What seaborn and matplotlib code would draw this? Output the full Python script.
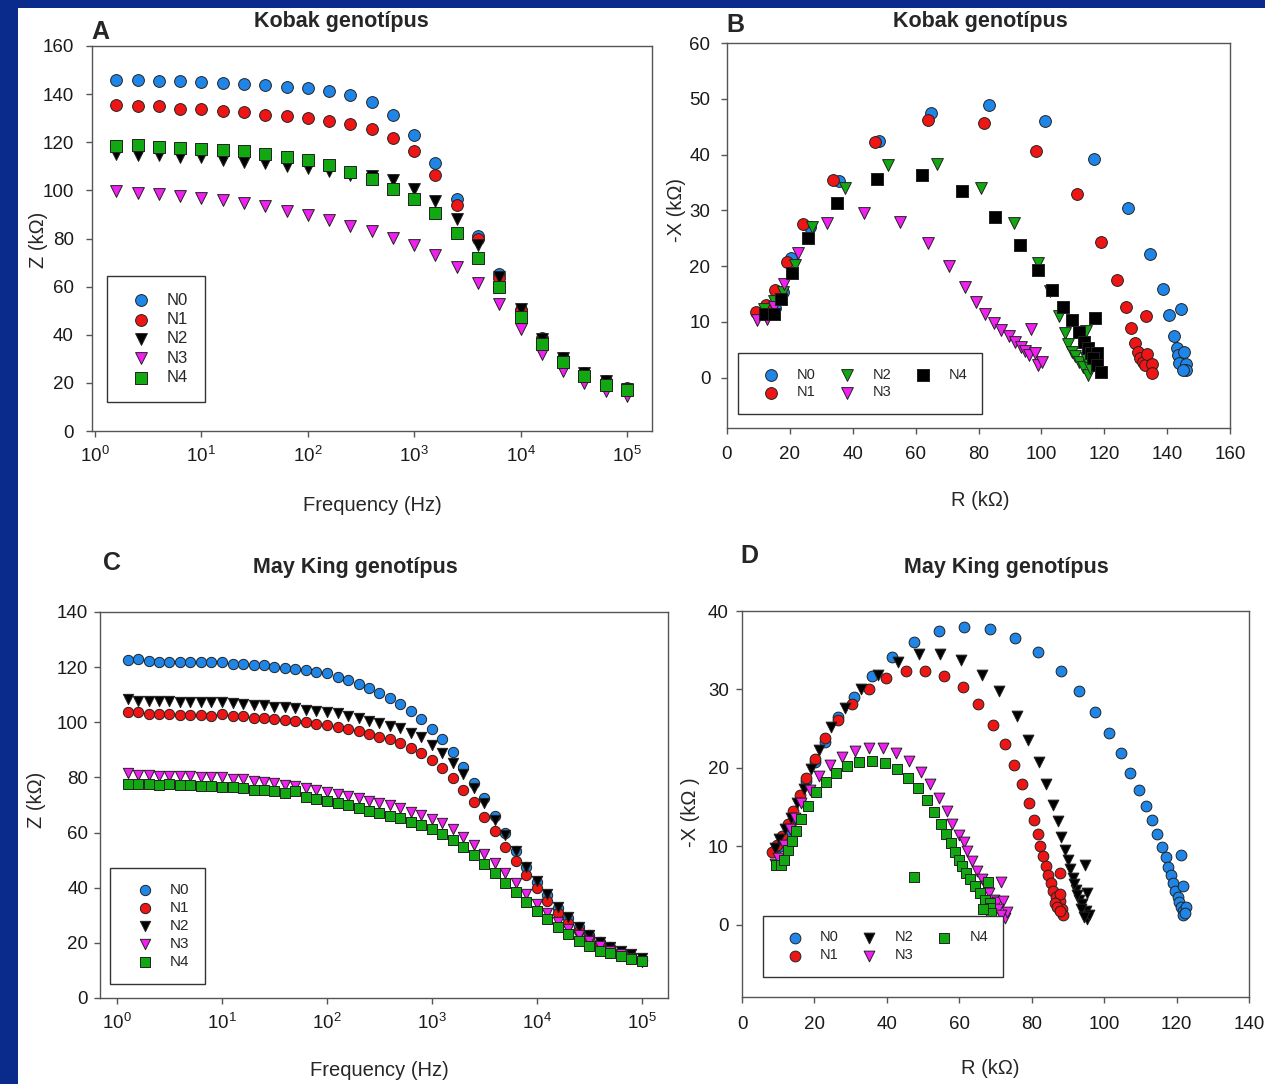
import numpy as np
import seaborn as sns
import matplotlib.pyplot as plt
from matplotlib.patches import Rectangle

sns.set_style("ticks")
plt.rcParams['font.family'] = ['Liberation Sans', 'DejaVu Sans']
plt.rcParams['mathtext.fontset'] = 'custom'
plt.rcParams['mathtext.rm'] = 'Liberation Sans'
plt.rcParams['mathtext.it'] = 'Liberation Sans:italic'
plt.rcParams['mathtext.bf'] = 'Liberation Sans:bold'

W, H = 1265, 1084
NAVY = '#0a2a8c'
names = ['N0', 'N1', 'N2', 'N3', 'N4']

# ---- A: Kobak, |Z| vs frequency ----
freq_a = [1.58, 2.51, 3.98, 6.31, 10, 15.8, 25.1, 39.8, 63.1, 100, 158, 251, 398, 631,
          1000, 1585, 2512, 3981, 6310, 10000, 15849, 25119, 39811, 63096, 100000]
z_a_n0 = [145.9, 145.9, 145.5, 145.5, 145.1, 144.8, 144.1, 143.7, 143.1, 142.4, 141.3, 139.5, 136.6,
          131.4, 123.1, 111.4, 96.6, 81.0, 65.1, 50.2, 38.6, 30.3, 24.3, 20.6, 17.8]
z_a_n1 = [135.3, 135.1, 134.9, 134.0, 133.7, 133.1, 132.5, 131.5, 130.8, 130.2, 129.0, 127.4, 125.5,
          121.9, 116.2, 106.5, 94.1, 79.6, 63.7, 50.2, 38.3, 29.8, 23.4, 19.9, 17.0]
z_a_n2 = [115.2, 114.8, 114.8, 114.0, 114.0, 112.7, 112.0, 111.2, 110.3, 109.4, 108.0, 106.5, 105.8,
          104.2, 100.7, 95.5, 87.9, 77.5, 64.1, 50.6, 38.4, 30.5, 24.3, 20.6, 17.4]
z_a_n3 = [99.8, 98.9, 98.7, 97.7, 96.9, 96.2, 94.9, 93.4, 91.6, 89.8, 87.6, 85.4, 83.0,
          80.3, 77.2, 73.2, 68.3, 61.6, 52.6, 42.3, 31.9, 25.0, 19.9, 16.6, 14.6]
z_a_n4 = [118.3, 119.0, 118.0, 117.7, 117.4, 116.9, 116.2, 115.1, 113.9, 112.5, 110.4, 107.6, 104.7,
          100.7, 96.4, 90.4, 82.1, 72.0, 59.8, 47.5, 36.1, 28.5, 22.9, 19.2, 17.0]

# ---- B: Kobak, Nyquist ----
r_b_n0 = [13.0, 15.3, 17.8, 20.5, 26.5, 35.5, 48.3, 65.0, 83.2, 101.2, 116.8, 127.7, 134.6, 138.7,
          140.5, 142.3, 143.0, 143.6, 143.8, 144.4, 145.4, 146.0, 146.0, 144.9]
x_b_n0 = [12.3, 12.5, 15.4, 21.5, 27.1, 35.2, 42.5, 47.5, 48.9, 46.0, 39.2, 30.4, 22.2, 16.0,
          11.2, 7.5, 5.4, 4.1, 2.6, 12.4, 4.7, 2.4, 1.4, 1.4]
r_b_n1 = [9.3, 12.4, 15.3, 19.1, 24.1, 33.6, 47.1, 64.0, 81.8, 98.2, 111.3, 119.0, 123.9, 126.9,
          133.2, 128.5, 129.9, 130.7, 131.5, 132.3, 133.0, 133.7, 135.1, 135.1]
x_b_n1 = [11.7, 13.0, 15.8, 20.7, 27.6, 35.5, 42.3, 46.2, 45.6, 40.7, 32.9, 24.3, 17.6, 12.6,
          11.1, 8.9, 6.3, 4.7, 3.5, 2.9, 2.3, 4.2, 2.4, 0.8]
r_b_n2 = [11.8, 14.8, 17.8, 21.5, 27.0, 37.4, 51.3, 66.8, 80.8, 91.3, 98.9, 102.8, 105.6, 107.5,
          108.6, 109.7, 110.7, 112.0, 113.2, 114.9, 114.2, 114.2, 115.5]
x_b_n2 = [12.3, 13.8, 15.4, 20.3, 27.1, 34.0, 38.2, 38.3, 34.1, 27.7, 20.5, 15.5, 11.1, 8.1,
          6.0, 4.7, 3.9, 2.9, 2.0, 0.5, 8.3, 3.5, 1.7]
r_b_n3 = [9.6, 12.6, 14.8, 18.0, 22.6, 31.7, 43.5, 54.9, 64.0, 70.5, 75.6, 79.2, 82.2, 85.0,
          87.3, 89.7, 91.6, 93.5, 94.9, 96.2, 97.9, 96.8, 99.0, 100.3]
x_b_n3 = [10.4, 10.5, 12.7, 16.8, 22.4, 27.7, 29.6, 28.0, 24.2, 20.0, 16.3, 13.5, 11.5, 9.9,
          8.6, 7.5, 6.5, 5.6, 4.8, 4.1, 4.5, 8.7, 2.3, 2.9]
r_b_n4 = [12.0, 14.8, 17.3, 20.8, 25.7, 35.0, 47.6, 61.9, 74.9, 85.1, 93.3, 99.0, 103.5, 106.8,
          109.7, 112.0, 117.0, 113.5, 114.8, 115.9, 117.6, 116.5, 117.8, 119.0]
x_b_n4 = [11.5, 11.4, 14.2, 18.7, 25.0, 31.4, 35.6, 36.3, 33.4, 28.8, 23.8, 19.3, 15.7, 12.7,
          10.3, 8.2, 10.8, 6.4, 5.3, 4.5, 4.4, 3.5, 2.3, 1.0]

# ---- C: May King, |Z| vs frequency ----
freq_c = [1.26, 1.58, 2.0, 2.51, 3.16, 3.98, 5.01, 6.31, 7.94, 10,
          12.6, 15.8, 20.0, 25.1, 31.6, 39.8, 50.1, 63.1, 79.4, 100,
          126, 158, 200, 251, 316, 398, 501, 631, 794, 1000,
          1259, 1585, 1995, 2512, 3162, 3981, 5012, 6310, 7943, 10000,
          12589, 15849, 19953, 25119, 31623, 39811, 50119, 63096, 79433, 100000]
z_c_n0 = [122.7, 122.9, 122.4, 121.9, 121.9, 121.9, 121.9, 121.8, 121.9, 121.8,
          121.3, 121.2, 120.8, 120.6, 120.1, 119.8, 119.2, 118.9, 118.3, 117.7,
          116.6, 115.3, 114.0, 112.3, 110.7, 108.7, 106.6, 104.1, 101.1, 97.6,
          93.8, 89.1, 83.9, 78.1, 72.4, 66.1, 59.7, 53.4, 47.6, 42.2,
          37.4, 32.8, 28.9, 25.6, 22.9, 20.4, 18.4, 16.7, 15.2, 13.8]
z_c_n1 = [103.6, 103.9, 103.0, 103.0, 102.9, 102.8, 102.8, 102.8, 102.1, 103.0,
          102.4, 102.1, 101.7, 101.5, 101.2, 100.9, 100.5, 100.2, 99.5, 98.9,
          98.3, 97.6, 96.9, 95.8, 94.8, 93.9, 92.4, 90.8, 88.7, 86.3,
          83.4, 79.8, 75.6, 71.0, 65.8, 60.6, 54.9, 49.7, 44.6, 39.8,
          35.2, 31.0, 27.3, 24.4, 21.6, 19.6, 17.8, 16.2, 15.0, 13.8]
z_c_n2 = [108.5, 107.9, 107.8, 107.6, 107.6, 107.5, 107.5, 107.3, 107.3, 107.2,
          106.9, 106.6, 106.4, 106.1, 105.7, 105.5, 105.1, 104.6, 104.1, 103.9,
          103.3, 102.3, 101.5, 100.6, 99.9, 98.8, 97.8, 96.2, 94.6, 91.9,
          89.0, 85.4, 81.1, 76.1, 70.6, 64.6, 59.1, 53.4, 47.6, 42.6,
          37.7, 33.1, 29.3, 25.9, 23.0, 20.4, 18.6, 17.0, 15.8, 14.5]
z_c_n3 = [81.5, 81.0, 81.0, 80.6, 80.6, 80.6, 80.4, 80.2, 80.2, 80.0,
          79.5, 79.3, 78.8, 78.3, 77.8, 77.3, 77.0, 76.1, 75.5, 74.6,
          74.1, 73.3, 72.6, 71.6, 70.6, 69.9, 68.8, 67.6, 66.4, 64.9,
          63.4, 61.2, 58.5, 55.6, 52.2, 49.1, 45.2, 41.6, 37.7, 34.1,
          30.7, 27.7, 25.1, 22.7, 20.7, 18.9, 17.2, 15.8, 14.5, 13.0]
z_c_n4 = [77.6, 77.6, 77.6, 77.2, 77.6, 77.2, 77.2, 77.0, 77.0, 76.7,
          76.5, 76.2, 75.6, 75.3, 74.9, 74.3, 75.0, 73.0, 72.2, 71.4,
          70.9, 70.0, 69.0, 67.9, 67.0, 66.1, 65.2, 64.0, 62.6, 61.2,
          59.5, 57.3, 54.9, 51.9, 48.6, 45.2, 41.8, 38.3, 34.9, 31.7,
          28.5, 25.6, 23.2, 20.8, 18.9, 17.2, 16.2, 15.2, 14.2, 13.3]

# ---- D: May King, Nyquist ----
r_d_n0 = [9.0, 10.4, 12.2, 14.1, 15.9, 17.8, 20.2, 23.0, 26.5, 30.8, 35.9, 41.4, 47.6, 54.4, 61.4,
          68.5, 75.5, 81.8, 88.0, 93.0, 97.4, 101.3, 104.6, 107.2, 109.5, 111.5, 113.1, 114.7,
          115.9, 117.0, 117.7, 118.4, 119.1, 119.6, 120.3, 120.7, 121.2, 121.7, 121.9, 122.5,
          121.7, 121.1, 122.3]
x_d_n0 = [9.4, 10.0, 11.3, 13.4, 16.0, 18.3, 20.8, 23.3, 26.5, 29.1, 31.7, 34.1, 36.0, 37.4, 38.0,
          37.7, 36.5, 34.8, 32.4, 29.8, 27.1, 24.4, 21.9, 19.4, 17.2, 15.2, 13.3, 11.6,
          9.9, 8.7, 7.4, 6.3, 5.3, 4.3, 3.6, 2.9, 2.3, 1.8, 1.2, 2.3,
          4.9, 8.9, 1.5]
r_d_n1 = [8.4, 9.8, 11.1, 12.7, 14.1, 15.9, 17.8, 20.1, 23.0, 26.5, 30.5, 35.0, 39.9, 45.2,
          50.6, 55.8, 60.9, 65.2, 69.4, 72.5, 75.0, 77.3, 79.2, 80.6, 81.7, 82.4, 83.1, 84.0,
          84.5, 85.2, 85.9, 86.7, 87.7, 87.9, 87.8, 88.5, 88.7, 86.5, 87.0, 87.9]
x_d_n1 = [9.3, 10.2, 11.3, 12.8, 14.5, 16.6, 18.7, 21.1, 23.8, 26.1, 28.1, 30.0, 31.4, 32.4,
          32.4, 31.7, 30.3, 28.2, 25.5, 23.1, 20.4, 17.9, 15.5, 13.4, 11.6, 10.0, 8.8, 7.5,
          6.3, 5.3, 4.3, 3.5, 3.0, 3.9, 6.6, 2.0, 1.3, 2.8, 2.3, 1.8]
r_d_n2 = [9.0, 10.3, 11.8, 13.4, 15.2, 17.0, 19.0, 21.3, 24.5, 28.4, 32.8, 37.6, 43.1, 49.0,
          54.7, 60.5, 66.4, 70.9, 75.8, 79.0, 81.9, 84.0, 86.0, 87.2, 88.2, 89.2, 90.0, 90.5,
          91.4, 92.1, 93.0, 94.0, 94.9, 95.4, 94.6, 95.2, 93.7, 95.8, 91.8, 92.6, 94.3]
x_d_n2 = [9.8, 10.9, 12.2, 13.6, 15.5, 17.3, 19.8, 22.3, 25.2, 27.6, 30.0, 31.8, 33.5, 34.5,
          34.5, 33.7, 31.9, 29.8, 26.6, 23.6, 20.7, 18.0, 15.3, 13.2, 11.2, 9.6, 8.3, 7.1,
          6.0, 4.4, 3.2, 2.6, 1.8, 0.7, 7.6, 4.1, 2.0, 1.3, 5.2, 3.8, 1.0]
r_d_n3 = [9.0, 10.0, 11.5, 13.2, 14.5, 16.4, 18.7, 21.3, 24.2, 27.6, 31.3, 35.1, 38.8, 42.4,
          46.0, 49.3, 51.9, 54.5, 56.6, 58.1, 59.8, 61.2, 62.1, 63.5, 64.9, 66.3, 67.3, 68.1,
          69.5, 70.4, 71.5, 72.0, 70.8, 72.7, 73.2, 71.6]
x_d_n3 = [7.7, 8.5, 10.2, 12.2, 13.6, 15.5, 17.2, 19.0, 20.4, 21.4, 22.2, 22.6, 22.5, 21.9,
          20.9, 19.5, 17.9, 16.2, 14.5, 12.9, 11.5, 10.5, 9.4, 8.1, 6.8, 5.9, 4.9, 4.1,
          3.2, 2.9, 5.4, 3.0, 2.0, 0.9, 1.6, 1.2]
r_d_n4 = [9.5, 10.9, 11.6, 12.7, 13.8, 15.0, 16.4, 18.1, 20.5, 23.1, 26.0, 29.0, 32.4, 36.0,
          39.4, 42.7, 45.9, 48.7, 51.2, 53.1, 54.9, 56.4, 57.7, 58.9, 59.8, 60.8, 61.9, 63.0,
          64.4, 65.8, 67.2, 67.8, 68.4, 68.6, 47.5, 68.8, 66.5]
x_d_n4 = [7.6, 7.6, 8.3, 9.5, 10.7, 12.0, 13.5, 15.2, 16.9, 18.2, 19.4, 20.3, 20.8, 20.9,
          20.6, 19.9, 18.7, 17.4, 15.9, 14.4, 12.9, 11.6, 10.4, 9.3, 8.3, 7.5, 6.6, 5.8,
          4.9, 4.0, 3.2, 5.4, 2.8, 2.2, 6.1, 1.5, 2.0]

BLUE, RED, BLACK, MAG, GREEN = '#1f86e8', '#ee1515', '#000000', '#f020f0', '#12a812'
col_std = [BLUE, RED, BLACK, MAG, GREEN]
mk_std = ['o', 'o', 'v', 'v', 's']
col_b = [BLUE, RED, GREEN, MAG, BLACK]
mk_b = ['o', 'o', 'v', 'v', 's']

fig = plt.figure(figsize=(W / 100, H / 100), dpi=100, facecolor=NAVY)
fig.add_artist(Rectangle((18 / W, 0), 1, 1 - 8 / H, transform=fig.transFigure,
                         facecolor='white', edgecolor='none', zorder=-5))


def px_axes(l, t, r, b):
    return fig.add_axes([l / W, 1 - b / H, (r - l) / W, (b - t) / H])


def ftext(x, y, s, **kw):
    fig.text(x / W, 1 - y / H, s, ha='center', va='center', **kw)


def style(ax, ypad, xpad):
    for s in ax.spines.values():
        s.set_color('#555555')
        s.set_linewidth(1.0)
    ax.tick_params(direction='out', length=4, width=1, color='#555555',
                   labelsize=13.5, labelcolor='#1a1a1a')
    ax.tick_params(axis='y', pad=ypad)
    ax.tick_params(axis='x', pad=xpad)


def draw(ax, xs, ys, colors, markers, size):
    for x, y, n, c, m in zip(xs, ys, names, colors, markers):
        sns.scatterplot(x=x, y=y, ax=ax, color=c, marker=m, s=size, edgecolor='#222222',
                        linewidth=0.7, label=n, zorder=3)


def legend(ax, anchor, loc, fs, ncol, hl, htp, ls, cs=1.0):
    leg = ax.legend(loc=loc, bbox_to_anchor=anchor, ncol=ncol, fontsize=fs, frameon=True,
                    fancybox=False, framealpha=1, edgecolor='#333333', borderpad=1.0,
                    borderaxespad=0, handlelength=hl, handletextpad=htp, labelspacing=ls,
                    columnspacing=cs, scatterpoints=1)
    leg.get_frame().set_linewidth(1.0)
    leg.set_zorder(10)


# A
axA = px_axes(92, 46, 652, 431)
draw(axA, [freq_a] * 5, [z_a_n0, z_a_n1, z_a_n2, z_a_n3, z_a_n4], col_std, mk_std, 72)
axA.set_xscale('log')
axA.set_xlim(10 ** -0.028, 10 ** 5.235)
axA.set_ylim(0, 160)
axA.set_xticks([1, 10, 100, 1000, 1e4, 1e5])
axA.set_yticks(range(0, 161, 20))
axA.minorticks_off()
style(axA, 9, 7)
legend(axA, ((107 - 92) / 560, (431 - 276) / 385), 'upper left', 12, 1, 2.07, 0.52, 0.26)

# B
axB = px_axes(727, 43, 1230, 428)
draw(axB, [r_b_n0, r_b_n1, r_b_n2, r_b_n3, r_b_n4], [x_b_n0, x_b_n1, x_b_n2, x_b_n3, x_b_n4],
     col_b, mk_b, 72)
axB.set_xlim(0, 160)
axB.set_ylim(-9, 60)
axB.set_xticks(range(0, 161, 20))
axB.set_yticks(range(0, 61, 10))
style(axB, 8, 9)
legend(axB, ((738 - 727) / 503, (428 - 414) / 385), 'lower left', 10.5, 3, 2.52, 0.52, 0.26, 0.88)

# C
axC = px_axes(100, 612, 668, 998)
draw(axC, [freq_c] * 5, [z_c_n0, z_c_n1, z_c_n2, z_c_n3, z_c_n4], col_std, mk_std, 55)
axC.set_xscale('log')
axC.set_xlim(10 ** -0.162, 10 ** 5.248)
axC.set_ylim(0, 140)
axC.set_xticks([1, 10, 100, 1000, 1e4, 1e5])
axC.set_yticks(range(0, 141, 20))
axC.minorticks_off()
style(axC, 4.5, 7)
legend(axC, ((110 - 100) / 568, (998 - 868) / 386), 'upper left', 11, 1, 2.57, 0.35, 0.25)

# D
axD = px_axes(742, 611, 1249, 997)
draw(axD, [r_d_n0, r_d_n1, r_d_n2, r_d_n3, r_d_n4], [x_d_n0, x_d_n1, x_d_n2, x_d_n3, x_d_n4],
     col_std, mk_std, 60)
axD.set_xlim(0, 140)
axD.set_ylim(-9.2, 40)
axD.set_xticks(range(0, 141, 20))
axD.set_yticks(range(0, 41, 10))
style(axD, 5.5, 10)
legend(axD, ((763 - 742) / 507, (997 - 977) / 386), 'lower left', 10.5, 3, 2.32, 0.59, 0.28, 0.92)

# titles, panel letters, axis labels
ftext(341, 21, 'Kobak genotípus', fontsize=15.5, fontweight='bold')
ftext(980, 21, 'Kobak genotípus', fontsize=15.5, fontweight='bold')
ftext(355, 568, 'May King genotípus', fontsize=15.5, fontweight='bold')
ftext(1006, 568, 'May King genotípus', fontsize=15.5, fontweight='bold')
ftext(100, 32, 'A', fontsize=18, fontweight='bold')
ftext(735, 25, 'B', fontsize=18, fontweight='bold')
ftext(112, 563, 'C', fontsize=18, fontweight='bold')
ftext(749, 556, 'D', fontsize=18, fontweight='bold')

ftext(372, 505, 'Frequency (Hz)', fontsize=14.5)
ftext(980, 500, 'R (kΩ)', fontsize=14.5)
ftext(379, 1071, 'Frequency (Hz)', fontsize=14.5)
ftext(990, 1068, 'R (kΩ)', fontsize=14.5)
ftext(39, 240, 'Z (kΩ)', fontsize=14.5, rotation=90)
ftext(676, 210, '-X (kΩ)', fontsize=14.5, rotation=90)
ftext(37, 800, 'Z (kΩ)', fontsize=14.5, rotation=90)
ftext(690, 812, '-X (kΩ )', fontsize=14.5, rotation=90)

fig.savefig('out.png', dpi=100, facecolor=NAVY)
